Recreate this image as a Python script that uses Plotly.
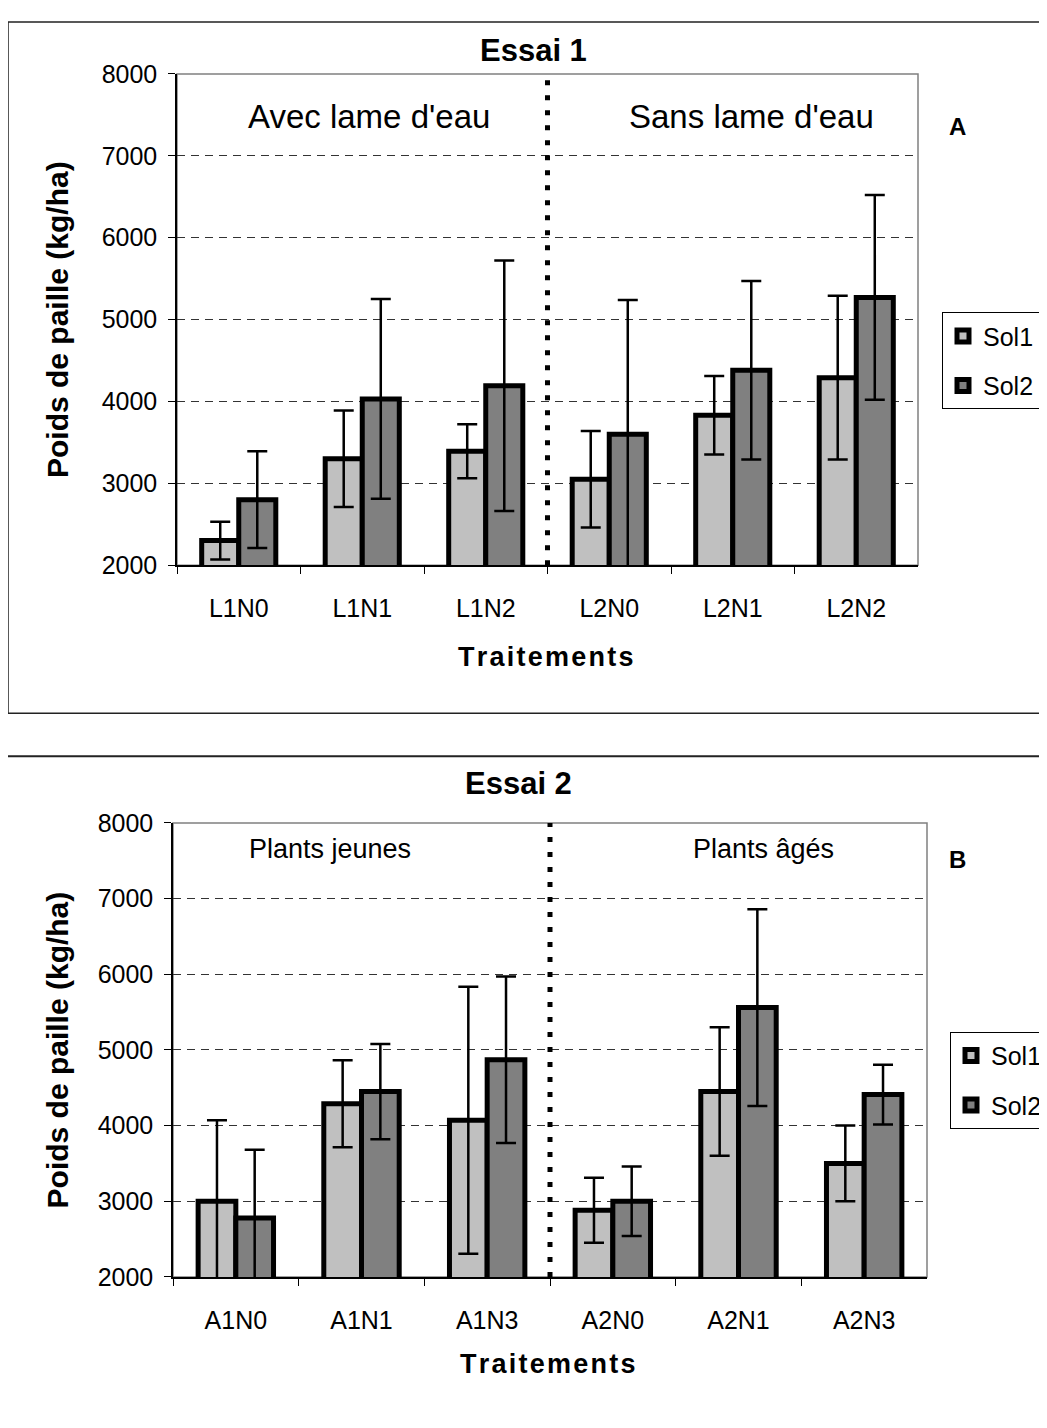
import plotly.graph_objects as go

W, H = 1047, 1428
OFF = 8  # page body margin shifts the figure by this much
FONT = "Arial, Liberation Sans, sans-serif"
HS = '\u200a'  # hair space, mimics the loose letter spacing of the original

# --- data: Essai 1
cats1 = ['L1N0', 'L1N1', 'L1N2', 'L2N0', 'L2N1', 'L2N2']
sol1_e1 = [2300, 3300, 3390, 3050, 3830, 4290]
sol1_e1_err = [230, 590, 330, 590, 480, 1000]
sol2_e1 = [2800, 4030, 4190, 3600, 4380, 5270]
sol2_e1_err = [590, 1220, 1530, 1640, 1090, 1250]

# --- data: Essai 2
cats2 = ['A1N0', 'A1N1', 'A1N3', 'A2N0', 'A2N1', 'A2N3']
sol1_e2 = [3000, 4290, 4070, 2880, 4450, 3500]
sol1_e2_err = [1070, 575, 1765, 430, 850, 500]
sol2_e2 = [2780, 4450, 4870, 3000, 5560, 4410]
sol2_e2_err = [900, 630, 1100, 460, 1300, 395]

y_ticks = [2000, 3000, 4000, 5000, 6000, 7000, 8000]

COL1 = '#C0C0C0'
COL2 = '#808080'


def px(x):
    return (x - OFF) / W


def py(y):
    return 1 - (y - OFF) / H


def bar(name, cats, vals, errs, color, xa, ya, legend):
    return go.Bar(
        name=name, x=cats, y=vals, xaxis=xa, yaxis=ya, legend=legend,
        legendgroup=name + legend,
        marker=dict(color=color, line=dict(color='black', width=5)),
        error_y=dict(type='data', array=errs, visible=True,
                     color='black', thickness=2.5, width=10),
    )


fig = go.Figure()
fig.add_trace(bar('Sol1', cats1, sol1_e1, sol1_e1_err, COL1, 'x', 'y', 'legend'))
fig.add_trace(bar('Sol2', cats1, sol2_e1, sol2_e1_err, COL2, 'x', 'y', 'legend'))
fig.add_trace(bar('Sol1', cats2, sol1_e2, sol1_e2_err, COL1, 'x2', 'y2', 'legend2'))
fig.add_trace(bar('Sol2', cats2, sol2_e2, sol2_e2_err, COL2, 'x2', 'y2', 'legend2'))

# plot area positions (pixels in the reference)
top = dict(l=177, r=918, t=61, b=562)
bot = dict(l=173, r=927, t=825, b=1288)

xcommon = dict(type='category', showline=True, linecolor='black', linewidth=1.5,
               ticks='outside', tickson='boundaries', ticklen=7, tickcolor='black',
               tickfont=dict(family=FONT, size=25, color='black'),
               ticklabelstandoff=20, showgrid=False, zeroline=False)
ycommon = dict(range=[2000, 8000], tickvals=y_ticks, showline=True, linecolor='black',
               linewidth=1.5, ticks='outside', ticklen=7, tickcolor='black',
               tickfont=dict(family=FONT, size=25, color='black'),
               ticklabelstandoff=6, showgrid=True, gridcolor='#333333', gridwidth=1,
               griddash='8px,6px', zeroline=False)

fig.update_layout(
    width=W, height=H, margin=dict(l=0, r=0, t=0, b=0),
    paper_bgcolor='white', plot_bgcolor='white',
    barmode='group', bargap=0.4, bargroupgap=0,
    font=dict(family=FONT, color='black'),
    xaxis=dict(xcommon, domain=[px(top['l']), px(top['r'])], anchor='y'),
    yaxis=dict(ycommon, domain=[py(top['b']), py(top['t'])], anchor='x'),
    xaxis2=dict(xcommon, domain=[px(bot['l']), px(bot['r'])], anchor='y2'),
    yaxis2=dict(ycommon, domain=[py(bot['b']), py(bot['t'])], anchor='x2'),
    legend=dict(x=px(942), y=py(304), xanchor='left', yanchor='top',
                bordercolor='black', borderwidth=1, bgcolor='white',
                font=dict(family=FONT, size=25), tracegroupgap=14,
                itemwidth=30),
    legend2=dict(x=px(950), y=py(1038), xanchor='left', yanchor='top',
                 bordercolor='black', borderwidth=1, bgcolor='white',
                 font=dict(family=FONT, size=25), tracegroupgap=14,
                 itemwidth=30),
)

shapes = []
# outer chart frames
shapes.append(dict(type='rect', xref='paper', yref='paper', x0=px(8), x1=px(1070),
                   y0=py(713), y1=py(8), line=dict(color='#222222', width=1.5)))
shapes.append(dict(type='rect', xref='paper', yref='paper', x0=px(-10), x1=px(1070),
                   y0=py(1460), y1=py(757), line=dict(color='#222222', width=2)))
# plot area borders (grey)
for xr, yr in (('x', 'y'), ('x2', 'y2')):
    shapes.append(dict(type='rect', xref=xr + ' domain', yref=yr + ' domain',
                       x0=0, x1=1, y0=0, y1=1, layer='below',
                       line=dict(color='#808080', width=1.5)))
    # dotted separator between the two groups
    shapes.append(dict(type='line', xref=xr, yref=yr + ' domain', x0=2.5, x1=2.5,
                       y0=0, y1=1, line=dict(color='black', width=5, dash='5px,10px')))
fig.update_layout(shapes=shapes)

ann = []


def text(x, y, t, size, bold=False, angle=0):
    ann.append(dict(xref='paper', yref='paper', x=px(x), y=py(y), text=('<b>%s</b>' % t) if bold else t,
                    showarrow=False, xanchor='center', yanchor='middle', textangle=angle,
                    font=dict(family=FONT, size=size, color='black')))


traitements = HS.join('Traitements')

text(533, 37, 'Essai 1', 31, bold=True)
text(369, 104, "Avec lame d'eau", 33)
text(751, 104, "Sans lame d'eau", 33)
text(957, 115, 'A', 24, bold=True)
text(57, 312, 'Poids de paille (kg/ha)', 30, bold=True, angle=-90)
text(546, 656, traitements, 27, bold=True)

text(518, 785, 'Essai 2', 31, bold=True)
text(330, 852, 'Plants jeunes', 27)
text(763, 852, 'Plants âgés', 27)
text(957, 862, 'B', 24, bold=True)
text(57, 1057, 'Poids de paille (kg/ha)', 30, bold=True, angle=-90)
text(548, 1377, traitements, 27, bold=True)
fig.update_layout(annotations=ann)

fig.write_html("out.html")
